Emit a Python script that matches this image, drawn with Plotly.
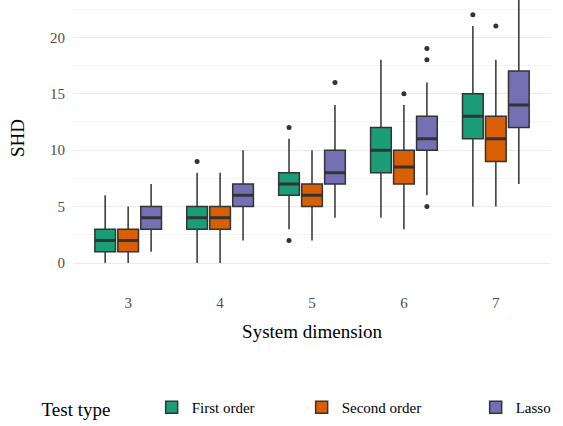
import plotly.graph_objects as go

dims = ['3', '4', '5', '6', '7']
series = ['First order', 'Second order', 'Lasso']
colors = ['#1B9E77', '#D95F02', '#7570B3']

first_q1 = [1, 3, 6, 8, 11]
first_med = [2, 4, 7, 10, 13]
first_q3 = [3, 5, 8, 12, 15]
first_lo = [0, 0, 3, 4, 5]
first_hi = [6, 8, 11, 18, 21]
first_out_x = ['4', '5', '5', '7']
first_out_y = [9, 12, 2, 22]

second_q1 = [1, 3, 5, 7, 9]
second_med = [2, 4, 6, 8.5, 11]
second_q3 = [3, 5, 7, 10, 13]
second_lo = [0, 0, 2, 3, 5]
second_hi = [5, 8, 10, 14, 18]
second_out_x = ['6', '7']
second_out_y = [15, 21]

lasso_q1 = [3, 5, 7, 10, 12]
lasso_med = [4, 6, 8, 11, 14]
lasso_q3 = [5, 7, 10, 13, 17]
lasso_lo = [1, 2, 4, 6, 7]
lasso_hi = [7, 10, 14, 16, 24]
lasso_out_x = ['5', '6', '6', '6']
lasso_out_y = [16, 19, 18, 5]

stats = [
    (first_q1, first_med, first_q3, first_lo, first_hi, first_out_x, first_out_y),
    (second_q1, second_med, second_q3, second_lo, second_hi, second_out_x, second_out_y),
    (lasso_q1, lasso_med, lasso_q3, lasso_lo, lasso_hi, lasso_out_x, lasso_out_y),
]
legend_widths = [105, 129, 35]

LINE = '#333333'
FONT = 'Liberation Serif'

fig = go.Figure()
for name, col, lw, (q1, med, q3, lo, hi, ox, oy) in zip(series, colors, legend_widths, stats):
    fig.add_trace(go.Box(
        x=dims, q1=q1, median=med, q3=q3, lowerfence=lo, upperfence=hi,
        name=name, offsetgroup=name, fillcolor=col,
        line=dict(color=LINE, width=1.5), whiskerwidth=0,
        boxpoints=False, showlegend=True, legendwidth=lw,
    ))
    fig.add_trace(go.Box(
        x=dims, q1=med, median=med, q3=med, lowerfence=med, upperfence=med,
        name=name, offsetgroup=name, fillcolor='rgba(0,0,0,0)',
        line=dict(color=LINE, width=3), whiskerwidth=0,
        boxpoints=False, showlegend=False, hoverinfo='skip',
    ))
    fig.add_trace(go.Scatter(
        x=ox, y=oy, mode='markers', name=name, offsetgroup=name,
        marker=dict(color=LINE, size=5), showlegend=False,
    ))

fig.update_layout(
    width=563, height=426,
    margin=dict(l=73, r=12, t=0, b=147),
    paper_bgcolor='white', plot_bgcolor='white',
    boxmode='group', boxgap=0.25, boxgroupgap=0.1,
    scattermode='group', scattergap=0.25,
    font=dict(family=FONT, color='#4D4D4D', size=15),
    xaxis=dict(
        type='category', categoryorder='array', categoryarray=dims,
        range=[-0.6, 4.6], showgrid=False, zeroline=False, showline=False,
        ticks='', ticklabelstandoff=16, automargin=False,
        tickfont=dict(family=FONT, size=15, color='#4D4D4D'),
        title=dict(text='System dimension', font=dict(size=19, color='black', family=FONT), standoff=14),
    ),
    yaxis=dict(
        range=[-1.15, 23.3], tickvals=[0, 5, 10, 15, 20],
        showgrid=True, gridcolor='#EBEBEB', gridwidth=1, zeroline=False,
        minor=dict(dtick=2.5, tick0=0, showgrid=True, gridcolor='#F3F3F3', gridwidth=1),
        ticks='', ticklabelstandoff=7, automargin=False,
        tickfont=dict(family=FONT, size=15, color='#4D4D4D'),
        title=dict(text='SHD', font=dict(size=19, color='black', family=FONT), standoff=20),
    ),
    legend=dict(
        orientation='h', x=-0.07, xanchor='left', y=-0.48, yanchor='middle',
        title=dict(text='Test type\u00a0\u00a0\u00a0\u00a0\u00a0\u00a0\u00a0',
                   font=dict(size=19, color='black', family=FONT)),
        font=dict(size=15, color='black', family=FONT),
    ),
)

fig.write_html('out.html', config={'displayModeBar': False},
               post_script="document.body.style.margin='0';")
